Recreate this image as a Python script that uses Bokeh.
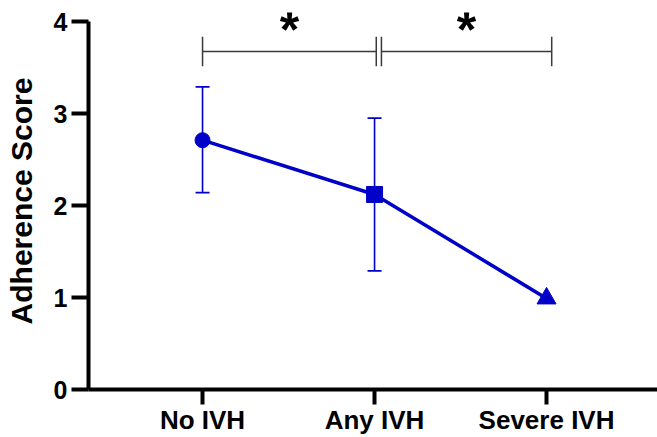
from bokeh.plotting import figure
from bokeh.models import (Range1d, FixedTicker, ColumnDataSource, Whisker, TeeHead, Label)
from bokeh.embed import file_html
from bokeh.resources import INLINE

# ---- data ----
categories = ["No IVH", "Any IVH", "Severe IVH"]
positions = [1, 2, 3]
means = [2.71, 2.12, 0.99]
err_upper = [3.29, 2.95]
err_lower = [2.14, 1.29]
markers = ["circle", "square", "triangle"]
y_ticks = [0, 1, 2, 3, 4]

# significance brackets (start, end) in category units, and their labels
bracket_start = [1.0, 2.04]
bracket_end = [2.01, 3.03]
bracket_y = 3.674
bracket_tick = 0.16
sig_labels = ["*", "*"]

FONT = "Liberation Sans"
BLUE = "#0000c8"
BRACKET = "#3a3a3a"

p = figure(width=657, height=437,
           x_range=Range1d(0.337, 3.645), y_range=Range1d(0, 4.098),
           output_backend="svg", toolbar_location=None,
           min_border_left=88, min_border_right=0,
           min_border_top=12, min_border_bottom=48)
p.outline_line_color = None
p.grid.visible = False
p.background_fill_color = "white"
p.border_fill_color = "white"

# ---- axes ----
for ax in (p.xaxis[0], p.yaxis[0]):
    ax.axis_line_width = 4
    ax.axis_line_color = "black"
    ax.major_tick_line_width = 4
    ax.major_tick_line_color = "black"
    ax.major_tick_in = 0
    ax.minor_tick_line_color = None
    ax.major_label_text_font = FONT
    ax.major_label_text_font_style = "bold"
    ax.major_label_text_color = "black"

p.yaxis.ticker = FixedTicker(ticks=y_ticks)
p.yaxis.bounds = (0, 4)
p.yaxis.major_tick_out = 17
p.yaxis.major_label_text_font_size = "25px"
p.yaxis.major_label_standoff = 4
p.yaxis.axis_label = "Adherence Score"
p.yaxis.axis_label_text_font = FONT
p.yaxis.axis_label_text_font_style = "bold"
p.yaxis.axis_label_text_font_size = "30px"
p.yaxis.axis_label_text_color = "black"
p.yaxis.axis_label_standoff = 13

p.xaxis.ticker = FixedTicker(ticks=positions)
p.xaxis.major_label_overrides = {pos: cat for pos, cat in zip(positions, categories)}
p.xaxis.major_tick_out = 15
p.xaxis.major_label_text_font_size = "26px"
p.xaxis.major_label_standoff = 0

# ---- error bars ----
n_err = len(err_upper)
err_src = ColumnDataSource(dict(x=positions[:n_err], upper=err_upper, lower=err_lower))
p.add_layout(Whisker(base="x", upper="upper", lower="lower", source=err_src,
                     line_color=BLUE, line_width=1.6,
                     upper_head=TeeHead(size=14, line_color=BLUE, line_width=1.6),
                     lower_head=TeeHead(size=14, line_color=BLUE, line_width=1.6)))

# ---- mean line and markers ----
p.line(positions, means, line_color=BLUE, line_width=3.5)
src = ColumnDataSource(dict(x=positions, y=means, marker=markers,
                            size=[15, 16, 19]))
p.scatter(x="x", y="y", marker="marker", size="size", source=src,
          fill_color=BLUE, line_color=BLUE)

# ---- significance brackets ----
for xs, xe, lab in zip(bracket_start, bracket_end, sig_labels):
    p.segment(x0=[xs, xs, xe], y0=[bracket_y, bracket_y - bracket_tick, bracket_y - bracket_tick],
              x1=[xe, xs, xe], y1=[bracket_y, bracket_y + bracket_tick, bracket_y + bracket_tick],
              line_color=BRACKET, line_width=1.5)
    p.add_layout(Label(x=(xs + xe) / 2, y=bracket_y, text=lab, y_offset=22,
                       text_align="center", text_baseline="alphabetic",
                       text_font=FONT, text_font_style="bold",
                       text_font_size="50px", text_color="black"))

open("out.html", "w").write(file_html(p, INLINE))
